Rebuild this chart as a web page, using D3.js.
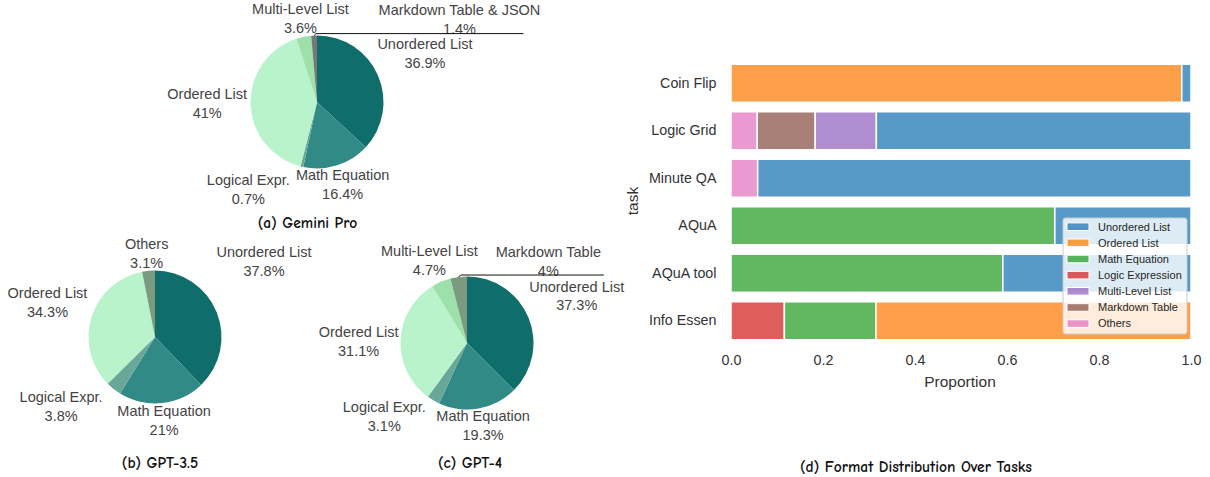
<!DOCTYPE html>
<html>
<head>
<meta charset="utf-8">
<script src="https://cdn.jsdelivr.net/npm/d3@7"></script>
<style>
body { margin: 0; background: #fff; }
svg text { font-family: "Liberation Sans", Arial, sans-serif; }
svg text.cap { font-family: "Comic Sans MS", "Comic Neue", "DejaVu Sans", sans-serif; font-weight: bold; }
</style>
</head>
<body>
<svg id="chart" width="1210" height="477"></svg>
<script>
// ---- pie data ----
const geminiLabels = ["Unordered List", "Math Equation", "Logical Expr.", "Ordered List", "Multi-Level List", "Markdown Table & JSON"];
const geminiValues = [36.9, 16.4, 0.7, 41, 3.6, 1.4];

const gpt35Labels = ["Unordered List", "Math Equation", "Logical Expr.", "Ordered List", "Others"];
const gpt35Values = [37.8, 21, 3.8, 34.3, 3.1];

const gpt4Labels = ["Unordered List", "Math Equation", "Logical Expr.", "Ordered List", "Multi-Level List", "Markdown Table"];
const gpt4Values = [37.3, 19.3, 3.1, 31.1, 4.7, 4];

// ---- bar data ----
const tasks = ["Coin Flip", "Logic Grid", "Minute QA", "AQuA", "AQuA tool", "Info Essen"];
const formats = ["Unordered List", "Ordered List", "Math Equation", "Logic Expression", "Multi-Level List", "Markdown Table", "Others"];
const unorderedShare = [0.02, 0.684, 0.942, 0.296, 0.409, 0];
const orderedShare   = [0.98, 0, 0, 0, 0, 0.685];
const mathShare      = [0, 0, 0, 0.704, 0.591, 0.199];
const logicShare     = [0, 0, 0, 0, 0, 0.116];
const multiShare     = [0, 0.133, 0, 0, 0, 0];
const markdownShare  = [0, 0.126, 0, 0, 0, 0];
const othersShare    = [0, 0.057, 0.058, 0, 0, 0];
const xTicks = [0, 0.2, 0.4, 0.6, 0.8, 1.0];

const svg = d3.select("#chart");

// ---------- pies ----------
const pieColor = {
  "Unordered List": "#0f6e6c",
  "Math Equation": "#318a86",
  "Logical Expr.": "#69a899",
  "Ordered List": "#b8f3cb",
  "Multi-Level List": "#9de0aa",
  "Others": "#7b9a7f",
  "Markdown Table": "#7b9a7f",
  "Markdown Table & JSON": "#777777"
};
const pieR = 66.5;
const fs = 14.5;
const lineH = 18.9;

function drawPie(cfg) {
  const g = svg.append("g").attr("transform", `translate(${cfg.cx},${cfg.cy})`);
  const rows = cfg.labels.map((l, i) => ({ label: l, value: cfg.values[i] }));
  const arcs = d3.pie().sort(null).value(d => d.value)(rows);
  const arc = d3.arc().innerRadius(0).outerRadius(pieR);

  g.selectAll("path")
    .data(arcs).enter()
    .append("path")
    .attr("d", arc)
    .attr("fill", d => pieColor[d.data.label]);

  arcs.forEach((d, i) => {
    const a = (d.startAngle + d.endAngle) / 2;
    const px = pieR * Math.sin(a), py = -pieR * Math.cos(a);
    const t = g.append("text")
      .attr("text-anchor", "middle")
      .style("font-size", fs + "px")
      .attr("fill", "#444");
    const l1 = t.append("tspan").text(d.data.label);
    const l2 = t.append("tspan").text(d.data.value + "%");
    const w = Math.max(l1.node().getComputedTextLength(), l2.node().getComputedTextLength());
    let dx = w / 2, dy = lineH;
    if (px < 0) dx = -dx;
    if (py < 0) dy = -dy;
    const nd = cfg.nudge[i] || [0, 0];
    const cx = px + dx + Math.sign(dx) * Math.abs(dy) / 2 + nd[0];
    const cy = py + dy / (1 + (px * px) / (py * py)) + nd[1];
    l1.attr("x", cx).attr("y", cy - lineH / 2).attr("dy", "0.35em");
    l2.attr("x", cx).attr("y", cy + lineH / 2).attr("dy", "0.35em");

    // leader line for labels pushed away from their slice
    if (cfg.leader && cfg.leader.index === i) {
      const ly = cy + cfg.leader.dy;
      g.append("polyline")
        .attr("points", [[px, py], [px + 2, ly], [cx + cfg.leader.end, ly]].map(p => p.join(",")).join(" "))
        .attr("fill", "none")
        .attr("stroke", "#111")
        .attr("stroke-width", 1);
    }
  });

  svg.append("text")
    .attr("class", "cap")
    .attr("x", cfg.capX).attr("y", cfg.capY)
    .attr("dy", "0.35em")
    .attr("text-anchor", "middle")
    .style("font-size", "15.5px")
    .attr("fill", "#111")
    .text(cfg.caption);
}

drawPie({
  labels: geminiLabels, values: geminiValues, cx: 317, cy: 102,
  nudge: [[-10, -19], [-50.7, 2], [-2.6, 4.8], [6, -0.7], [54.5, 0], [235.7, 2.7]],
  leader: { index: 5, dy: 14.2, end: 64 },
  caption: "(a) Gemini Pro", capX: 307.5, capY: 222.5
});
drawPie({
  labels: gpt35Labels, values: gpt35Values, cx: 155, cy: 337,
  nudge: [[-9.7, -48], [-54.2, -1.7], [-1.5, 5.5], [5.4, -13.3], [29.3, 0.9]],
  caption: "(b) GPT-3.5", capX: 160, capY: 463
});
drawPie({
  labels: gpt4Labels, values: gpt4Values, cx: 467, cy: 343,
  nudge: [[-8.7, -18.8], [-51.8, -1.3], [1.9, 1.6], [7.4, 0.9], [46.1, -5.7], [151.8, 3.1]],
  leader: { index: 5, dy: 13.5, end: 55.5 },
  caption: "(c) GPT-4", capX: 470, capY: 463
});

// ---------- stacked bars ----------
const barColor = {
  "Unordered List": "#1f77b4",
  "Ordered List": "#ff7f0e",
  "Math Equation": "#2ca02c",
  "Logic Expression": "#d62728",
  "Multi-Level List": "#9467bd",
  "Markdown Table": "#8c564b",
  "Others": "#e377c2"
};
const shares = [unorderedShare, orderedShare, mathShare, logicShare, multiShare, markdownShare, othersShare];
const table = tasks.map((t, i) => {
  const row = { task: t };
  formats.forEach((f, k) => { row[f] = shares[k][i]; });
  return row;
});

const x = d3.scaleLinear().domain([0, 1]).range([731, 1191]);
const y = d3.scaleBand().domain(tasks).range([59.5, 344.5]).paddingInner(0.2).paddingOuter(0.1);

const stack = d3.stack().keys(formats.slice().reverse());
const layers = stack(table);

const bars = svg.append("g");
layers.forEach(layer => {
  bars.selectAll(null)
    .data(layer.filter(d => d[1] - d[0] > 0)).enter()
    .append("rect")
    .attr("x", d => x(d[0]))
    .attr("y", d => y(d.data.task))
    .attr("width", d => x(d[1]) - x(d[0]))
    .attr("height", y.bandwidth())
    .attr("fill", barColor[layer.key])
    .attr("fill-opacity", 0.75)
    .attr("stroke", "#fff")
    .attr("stroke-width", 1.5);
});

const yAxis = svg.append("g")
  .attr("transform", "translate(731,0)")
  .call(d3.axisLeft(y).tickSize(0).tickPadding(14.5));
yAxis.select(".domain").remove();
yAxis.selectAll("text").style("font-size", "14.3px").attr("fill", "#333")
  .style("font-family", '"Liberation Sans", Arial, sans-serif');

const xAxis = svg.append("g")
  .attr("transform", "translate(0,344.5)")
  .call(d3.axisBottom(x).tickValues(xTicks).tickFormat(d3.format(".1f")).tickSize(0).tickPadding(10.5));
xAxis.select(".domain").remove();
xAxis.selectAll("text").style("font-size", "14.3px").attr("fill", "#333")
  .style("font-family", '"Liberation Sans", Arial, sans-serif');

svg.append("text")
  .attr("transform", "translate(633,201) rotate(-90)")
  .attr("text-anchor", "middle").attr("dy", "0.35em")
  .style("font-size", "15.5px").attr("fill", "#333")
  .text("task");

svg.append("text")
  .attr("x", 960).attr("y", 381.5)
  .attr("text-anchor", "middle").attr("dy", "0.35em")
  .style("font-size", "15.5px").attr("fill", "#333")
  .text("Proportion");

// legend
const legend = svg.append("g").attr("transform", "translate(1063,218)");
legend.append("rect")
  .attr("width", 124).attr("height", 116)
  .attr("rx", 2.5)
  .attr("fill", "#fff").attr("fill-opacity", 0.8)
  .attr("stroke", "#ccc").attr("stroke-width", 1);
formats.forEach((f, i) => {
  const row = legend.append("g").attr("transform", `translate(0,${8.7 + i * 16.15})`);
  row.append("rect")
    .attr("x", 4).attr("y", -3.8).attr("width", 22).attr("height", 7.6)
    .attr("fill", barColor[f]).attr("fill-opacity", 0.75)
    .attr("stroke", "#fff").attr("stroke-width", 1);
  row.append("text")
    .attr("x", 35).attr("dy", "0.35em")
    .style("font-size", "11px").attr("fill", "#262626")
    .text(f);
});

svg.append("text")
  .attr("class", "cap")
  .attr("x", 916).attr("y", 466.5)
  .attr("dy", "0.35em")
  .attr("text-anchor", "middle")
  .style("font-size", "15.5px")
  .attr("fill", "#111")
  .text("(d) Format Distribution Over Tasks");
</script>
</body>
</html>
